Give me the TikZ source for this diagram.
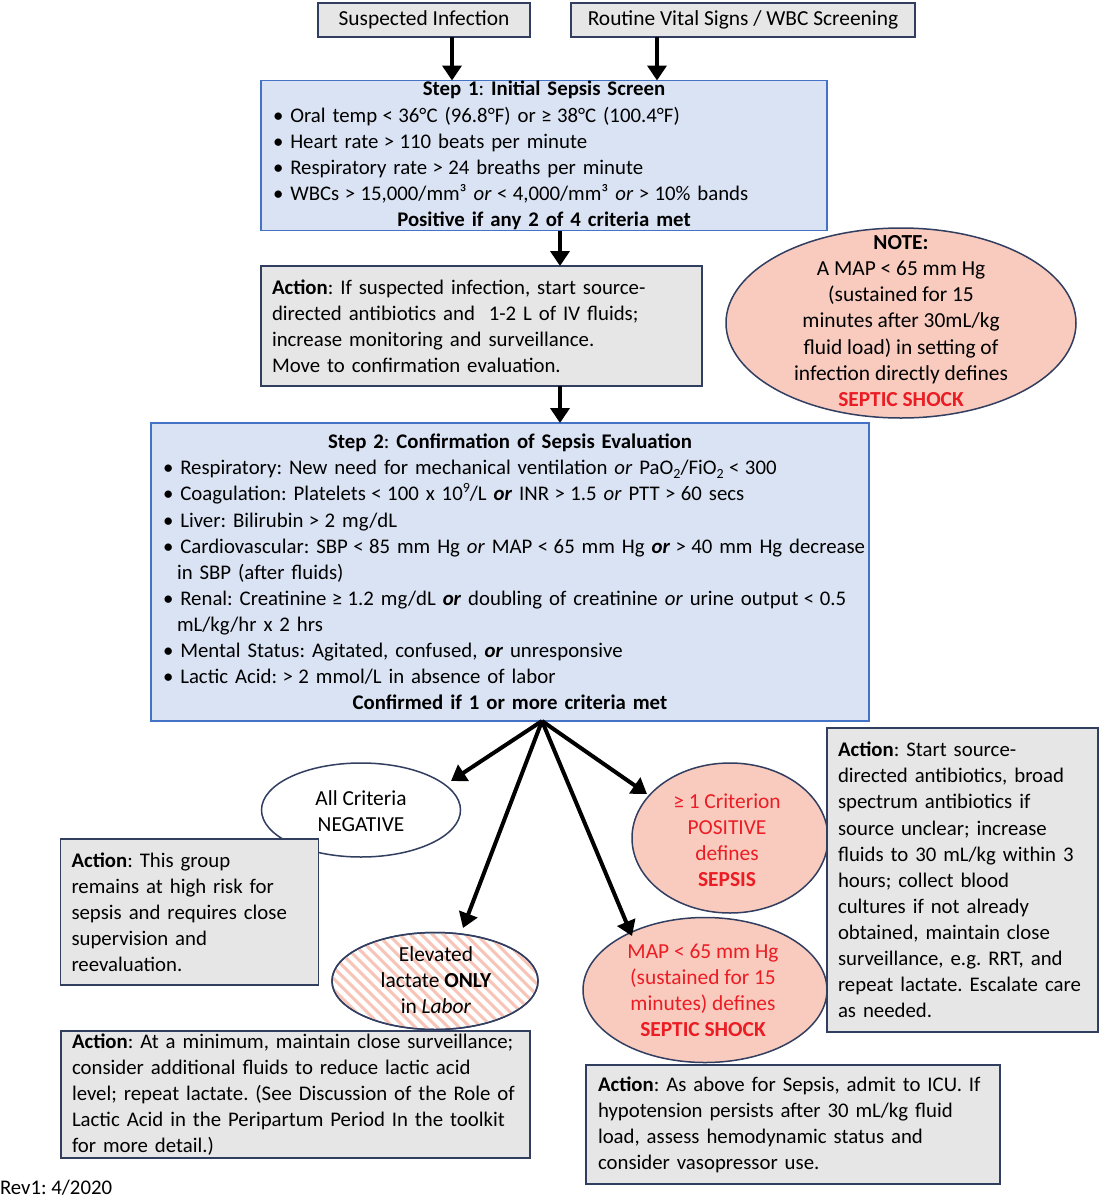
\documentclass[tikz,border=0pt]{standalone}
\usepackage{fontspec}
\setmainfont{Carlito}
\usetikzlibrary{arrows.meta,shapes.geometric}
\definecolor{bgray}{RGB}{231,230,230}
\definecolor{bnavy}{RGB}{50,62,96}
\definecolor{sblue}{RGB}{218,227,243}
\definecolor{sborder}{RGB}{68,114,196}
\definecolor{spink}{RGB}{248,203,190}
\definecolor{sred}{RGB}{235,28,36}
\definecolor{stripecol}{RGB}{248,196,184}
\newcommand\subs[1]{\raisebox{-0.35ex}{\fontsize{14}{14}\selectfont #1}}
\newcommand\supx[1]{\raisebox{0.8ex}{\fontsize{14}{14}\selectfont #1}}
\newcommand\hang{\hspace*{14pt}}
\newcommand\bor{\textbf{\textit{or}}}
\newcommand\lin[1]{\mbox{#1}}
\newcommand\ctr[1]{\makebox[\linewidth]{#1}}
\newcommand\LT{\kern-1.5pt<\kern-1.5pt}
\newcommand\GT{\kern-1.5pt>\kern-1.5pt}
\newcommand\GE{\kern-1.5pt≥\kern-1.5pt}
\begin{document}
\begin{tikzpicture}[x=1pt,y=-1pt,
  every node/.style={font=\fontsize{20.8}{26.1}\selectfont\frenchspacing, inner sep=0pt, outer sep=0pt},
  bigfont/.style={font=\fontsize{21.4}{26.1}\selectfont\frenchspacing},
  topbox/.style={draw=bnavy, line width=1.8pt, fill=bgray, minimum height=34pt, bigfont},
  stepbox/.style={draw=sborder, line width=1.8pt, fill=sblue, align=left, inner xsep=12pt, inner ysep=0pt},
  actbox/.style={draw=bnavy, line width=1.8pt, fill=bgray, align=left, inner xsep=11pt, inner ysep=0pt},
  ellshape/.style={ellipse, draw=bnavy, line width=1.5pt},
  elltext/.style={align=center, bigfont},
  arr/.style={line width=4pt, -{Triangle[length=15pt,width=19pt]}},
]
\useasboundingbox (0,0) rectangle (1100,1200);
\fill[white] (0,0) rectangle (1100,1200);

% top boxes
\node[topbox, minimum width=212pt] (si) at (424,20) {Suspected Infection};
\node[topbox, minimum width=344pt] (sv) at (743,20) {Routine Vital Signs / WBC Screening};

% step 1
\node[stepbox, text width=542pt, minimum width=566pt, minimum height=150pt] (s1) at (544,155.5) {%
\ctr{\textbf{Step 1}: \textbf{Initial Sepsis Screen}}\\
\lin{• Oral temp \LT{} 36°C (96.8°F) or \GE{} 38°C (100.4°F)}\\
\lin{• Heart rate \GT{} 110 beats per minute}\\
\lin{• Respiratory rate \GT{} 24 breaths per minute}\\
\lin{• WBCs \GT{} 15,000/mm³ \textit{or} \LT{} 4,000/mm³ \textit{or} \GT{} 10\% bands}\\
\ctr{\textbf{Positive if any 2 of 4 criteria met}}};

% action 1
\node[actbox, text width=419pt, minimum width=441pt, minimum height=120pt] (a1) at (481.5,326) {%
\lin{\textbf{Action}: If suspected infection, start source-}\\
\lin{directed antibiotics and~ 1-2 L of IV fluids;}\\
\lin{increase monitoring and surveillance.}\\
\lin{Move to confirmation evaluation.}};

% note ellipse
\node[ellshape, fill=spink, minimum width=350pt, minimum height=190pt] (note) at (901,323) {};
\node[elltext] (notet) at (901,321) {\textbf{NOTE:}\\
A MAP < 65 mm Hg\\
(sustained for 15\\
minutes after 30mL/kg\\
fluid load) in setting of\\
infection directly defines\\
\textcolor{sred}{\textbf{SEPTIC SHOCK}}};

% step 2
\node[stepbox, text width=694pt, minimum width=718pt, minimum height=298pt] (s2) at (510,572) {%
\ctr{\textbf{Step 2}: \textbf{Confirmation of Sepsis Evaluation}}\\
\lin{• Respiratory: New need for mechanical ventilation \textit{or} PaO\subs{2}/FiO\subs{2} \LT{} 300}\\
\lin{• Coagulation: Platelets \LT{} 100 x 10\supx{9}/L \bor{} INR \GT{} 1.5 \textit{or} PTT \GT{} 60 secs}\\
\lin{• Liver: Bilirubin \GT{} 2 mg/dL}\\
\lin{• Cardiovascular: SBP \LT{} 85 mm Hg \textit{or} MAP \LT{} 65 mm Hg \bor{} \GT{} 40 mm Hg decrease}\\
\lin{\hang in SBP (after fluids)}\\
\lin{• Renal: Creatinine \GE{} 1.2 mg/dL \bor{} doubling of creatinine \textit{or} urine output \LT{} 0.5}\\
\lin{\hang mL/kg/hr x 2 hrs}\\
\lin{• Mental Status: Agitated, confused, \bor{} unresponsive}\\
\lin{• Lactic Acid: \GT{} 2 mmol/L in absence of labor}\\
\ctr{\textbf{Confirmed if 1 or more criteria met}}};

% outcome ellipses
\node[ellshape, fill=white, minimum width=199pt, minimum height=94pt] (neg) at (361,810) {};
\node[elltext] (negt) at (361,811) {All Criteria\\NEGATIVE};

\node[ellshape, fill=spink, minimum width=196pt, minimum height=150pt] (pos) at (730,838) {};
\node[elltext, text=sred] (post) at (727,840) {≥ 1 Criterion\\POSITIVE\\defines\\\textbf{SEPSIS}};

\node[ellshape, fill=spink, minimum width=244pt, minimum height=145pt] (map) at (705,990) {};
\node[elltext, text=sred] (mapt) at (703,990) {MAP < 65 mm Hg\\(sustained for 15\\minutes) defines\\\textbf{SEPTIC SHOCK}};

\node[ellshape, fill=white, minimum width=206pt, minimum height=97pt] (lac) at (435,981) {};
\begin{scope}
  \clip (435,981) ellipse [x radius=102pt, y radius=47.5pt];
  \foreach \k in {-220,-209,...,220} {
    \draw[stripecol, line width=3pt] (435+\k-70,981-70) -- (435+\k+70,981+70);
  }
\end{scope}
\draw[bnavy, line width=1.5pt] (lac.center) ellipse [x radius=103pt, y radius=48.5pt];
\node[elltext] (lact) at (436,980) {Elevated\\lactate \textbf{ONLY}\\in \textit{Labor}};

% action boxes
\node[actbox, text width=236pt, minimum width=258pt, minimum height=146pt] (aneg) at (189.5,912) {%
\lin{\textbf{Action}: This group}\\
\lin{remains at high risk for}\\
\lin{sepsis and requires close}\\
\lin{supervision and}\\
\lin{reevaluation.}};

\node[actbox, text width=249pt, minimum width=271pt, minimum height=304pt] (apos) at (962.5,880) {%
\lin{\textbf{Action}: Start source-}\\
\lin{directed antibiotics, broad}\\
\lin{spectrum antibiotics if}\\
\lin{source unclear; increase}\\
\lin{fluids to 30 mL/kg within 3}\\
\lin{hours; collect blood}\\
\lin{cultures if not already}\\
\lin{obtained, maintain close}\\
\lin{surveillance, e.g. RRT, and}\\
\lin{repeat lactate. Escalate care}\\
\lin{as needed.}};

\node[actbox, text width=447pt, minimum width=469pt, minimum height=127pt] (alac) at (295.5,1094.5) {%
\lin{\textbf{Action}: At a minimum, maintain close surveillance;}\\
\lin{consider additional fluids to reduce lactic acid}\\
\lin{level; repeat lactate. (See Discussion of the Role of}\\
\lin{Lactic Acid in the Peripartum Period In the toolkit}\\
\lin{for more detail.)}};

\node[actbox, text width=390pt, minimum width=414pt, minimum height=119pt, inner xsep=12pt] (amap) at (793,1124.5) {%
\lin{\textbf{Action}: As above for Sepsis, admit to ICU. If}\\
\lin{hypotension persists after 30 mL/kg fluid}\\
\lin{load, assess hemodynamic status and}\\
\lin{consider vasopressor use.}};

\node[anchor=west] (rev) at (0,1188) {Rev1: 4/2020};

% arrows
\draw[arr] ([xshift=28pt]si.south) -- ([xshift=28pt]si.south |- s1.north);
\draw[arr] ([xshift=-86pt]sv.south) -- ([xshift=-86pt]sv.south |- s1.north);
\draw[arr] ([xshift=16pt]s1.south) -- ([xshift=16pt]s1.south |- a1.north);
\draw[arr] ([xshift=78.5pt]a1.south) -- ([xshift=78.5pt]a1.south |- s2.north);

\coordinate (fan) at ([xshift=32pt]s2.south);
\coordinate (tneg) at (451,781);
\coordinate (tlac) at (463,928);
\coordinate (tpos) at (647,794);
\coordinate (tmap) at (632,936);
\draw[arr] (fan) -- (tneg);
\draw[arr] (fan) -- (tlac);
\draw[arr] (fan) -- (tpos);
\draw[arr] (fan) -- (tmap);
\end{tikzpicture}
\end{document}
